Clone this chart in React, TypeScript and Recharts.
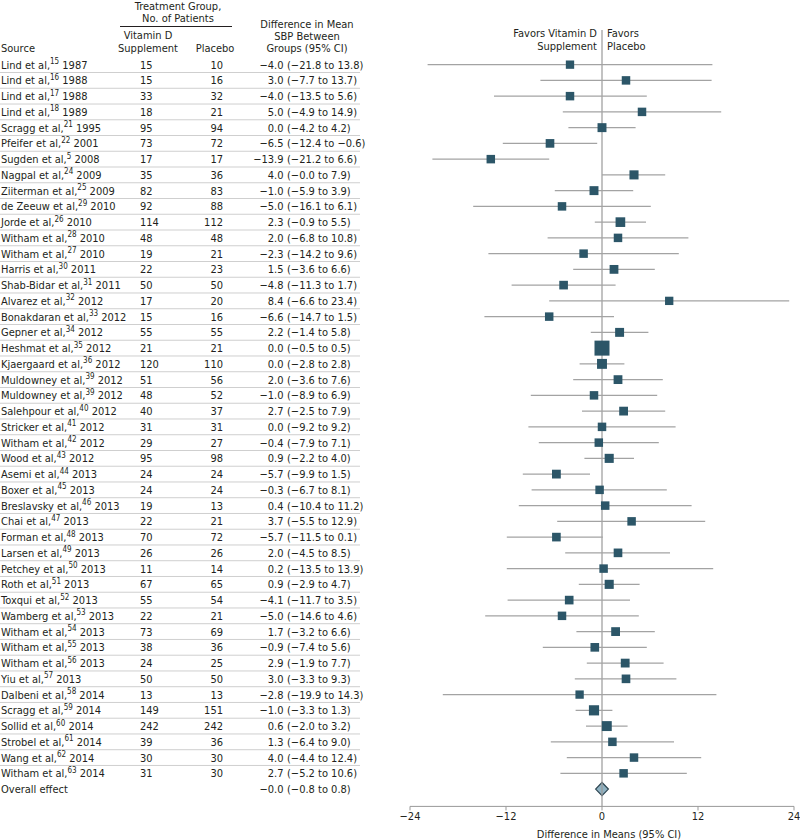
import React from 'react';
import { ScatterChart, Scatter, XAxis, YAxis, ZAxis, ErrorBar, ReferenceLine, ReferenceArea } from 'recharts';

// ---------- DATA ----------
const authors = [
  'Lind et al,', 'Lind et al,', 'Lind et al,', 'Lind et al,', 'Scragg et al,', 'Pfeifer et al,', 'Sugden et al,',
  'Nagpal et al,', 'Ziiterman et al,', 'de Zeeuw et al,', 'Jorde et al,', 'Witham et al,', 'Witham et al,',
  'Harris et al,', 'Shab-Bidar et al,', 'Alvarez et al,', 'Bonakdaran et al,', 'Gepner et al,', 'Heshmat et al,',
  'Kjaergaard et al,', 'Muldowney et al,', 'Muldowney et al,', 'Salehpour et al,', 'Stricker et al,', 'Witham et al,',
  'Wood et al,', 'Asemi et al,', 'Boxer et al,', 'Breslavsky et al,', 'Chai et al,', 'Forman et al,', 'Larsen et al,',
  'Petchey et al,', 'Roth et al,', 'Toxqui et al,', 'Wamberg et al,', 'Witham et al,', 'Witham et al,', 'Witham et al,',
  'Yiu et al,', 'Dalbeni et al,', 'Scragg et al,', 'Sollid et al,', 'Strobel et al,', 'Wang et al,', 'Witham et al,',
];
const refs = [15, 16, 17, 18, 21, 22, 5, 24, 25, 29, 26, 28, 27, 30, 31, 32, 33, 34, 35, 36, 39, 39, 40, 41, 42, 43,
  44, 45, 46, 47, 48, 49, 50, 51, 52, 53, 54, 55, 56, 57, 58, 59, 60, 61, 62, 63];
const years = [1987, 1988, 1988, 1989, 1995, 2001, 2008, 2009, 2009, 2010, 2010, 2010, 2010, 2011, 2011,
  2012, 2012, 2012, 2012, 2012, 2012, 2012, 2012, 2012, 2012, 2012,
  2013, 2013, 2013, 2013, 2013, 2013, 2013, 2013, 2013, 2013, 2013, 2013, 2013, 2013,
  2014, 2014, 2014, 2014, 2014, 2014];
const vitaminD = [15, 15, 33, 18, 95, 73, 17, 35, 82, 92, 114, 48, 19, 22, 50, 17, 15, 55, 21, 120, 51, 48, 40, 31, 29, 95,
  24, 24, 19, 22, 70, 26, 11, 67, 55, 22, 73, 38, 24, 50, 13, 149, 242, 39, 30, 31];
const placebo = [10, 16, 32, 21, 94, 72, 17, 36, 83, 88, 112, 48, 21, 23, 50, 20, 16, 55, 21, 110, 56, 52, 37, 31, 27, 98,
  24, 24, 13, 21, 72, 26, 14, 65, 54, 21, 69, 36, 25, 50, 13, 151, 242, 36, 30, 30];
const estimates = [-4.0, 3.0, -4.0, 5.0, 0.0, -6.5, -13.9, 4.0, -1.0, -5.0, 2.3, 2.0, -2.3, 1.5, -4.8, 8.4, -6.6, 2.2, 0.0,
  0.0, 2.0, -1.0, 2.7, 0.0, -0.4, 0.9, -5.7, -0.3, 0.4, 3.7, -5.7, 2.0, 0.2, 0.9, -4.1, -5.0, 1.7, -0.9, 2.9, 3.0, -2.8,
  -1.0, 0.6, 1.3, 4.0, 2.7];
const ciText = [
  '(−21.8 to 13.8)', '(−7.7 to 13.7)', '(−13.5 to 5.6)', '(−4.9 to 14.9)', '(−4.2 to 4.2)', '(−12.4 to −0.6)',
  '(−21.2 to 6.6)', '(−0.0 to 7.9)', '(−5.9 to 3.9)', '(−16.1 to 6.1)', '(−0.9 to 5.5)', '(−6.8 to 10.8)',
  '(−14.2 to 9.6)', '(−3.6 to 6.6)', '(−11.3 to 1.7)', '(−6.6 to 23.4)', '(−14.7 to 1.5)', '(−1.4 to 5.8)',
  '(−0.5 to 0.5)', '(−2.8 to 2.8)', '(−3.6 to 7.6)', '(−8.9 to 6.9)', '(−2.5 to 7.9)', '(−9.2 to 9.2)',
  '(−7.9 to 7.1)', '(−2.2 to 4.0)', '(−9.9 to 1.5)', '(−6.7 to 8.1)', '(−10.4 to 11.2)', '(−5.5 to 12.9)',
  '(−11.5 to 0.1)', '(−4.5 to 8.5)', '(−13.5 to 13.9)', '(−2.9 to 4.7)', '(−11.7 to 3.5)', '(−14.6 to 4.6)',
  '(−3.2 to 6.6)', '(−7.4 to 5.6)', '(−1.9 to 7.7)', '(−3.3 to 9.3)', '(−19.9 to 14.3)', '(−3.3 to 1.3)',
  '(−2.0 to 3.2)', '(−6.4 to 9.0)', '(−4.4 to 12.4)', '(−5.2 to 10.6)',
];
// CI limits as drawn in the plot
const ciLow = [-21.8, -7.7, -13.5, -4.9, -4.2, -12.4, -21.2, 0.0, -5.9, -16.1, -0.9, -6.8, -14.2, -3.6, -11.3, -6.6,
  -14.7, -1.4, -0.5, -2.8, -3.6, -8.9, -2.5, -9.2, -7.9, -2.2, -9.9, -8.8, -10.4, -5.6, -11.9, -4.6, -11.9, -2.9,
  -11.8, -14.6, -3.2, -7.4, -1.9, -3.4, -19.9, -3.3, -2.0, -6.4, -4.4, -5.2];
const ciHigh = [13.8, 13.7, 5.6, 14.9, 4.2, -0.6, -6.6, 7.9, 3.9, 6.1, 5.5, 10.8, 9.6, 6.6, 1.7, 23.4, 1.5, 5.8, 0.5,
  2.8, 7.6, 6.9, 7.9, 9.2, 7.1, 4.0, -1.5, 8.1, 11.2, 12.9, 0.1, 8.5, 13.9, 4.7, 3.5, 4.6, 6.6, 5.6, 7.7, 9.3, 14.3,
  1.3, 3.2, 9.0, 12.4, 10.6];
const weights = [0.5, 1, 1, 1, 2.5, 1.5, 1, 3, 2.5, 1, 5, 1, 1, 2, 1.5, 0.5, 1, 2.5, 30, 6, 2, 1, 2, 1, 1, 3,
  2, 1, 1, 1, 1.5, 1.5, 1, 3, 1.5, 1, 2, 1.5, 2, 1.5, 0.5, 7, 6, 1, 1, 1];

const overallLabel = 'Overall effect';
const overallEstimate = -0.0;
const overallLow = -0.8;
const overallHigh = 0.8;
const overallText = '(−0.8 to 0.8)';

const xTicks = [-24, -12, 0, 12, 24];

// ---------- STYLE ----------
const FONT = "'Liberation Sans Narrow', 'Arial Narrow', 'DejaVu Sans Condensed', sans-serif";
const FS = 11;
const TEXT = '#231f20';
const BOX = '#2c5668';
const CI_LINE = '#a3a3a3';
const AXIS = '#999999';

const overallRow = authors.length;
const studies = authors.map((_, i) => ({
  row: i,
  est: estimates[i],
  err: [estimates[i] - ciLow[i], ciHigh[i] - estimates[i]],
  weight: weights[i],
}));

const yTicks: number[] = [];
for (let i = 0; i <= overallRow; i++) {
  yTicks.push(i);
  if (i < overallRow - 1) yTicks.push(i + 0.5);
}

const fmt = (v: number) => {
  const neg = v < 0 || Object.is(v, -0);
  return (neg ? '−' : '') + Math.abs(v).toFixed(1);
};
const fmtTick = (v: number) => (v < 0 ? '−' + Math.abs(v) : String(v));

const RowTick = (props: any) => {
  const { y, payload } = props;
  const v = payload.value as number;
  if (!Number.isInteger(v)) {
    return <line x1={0} x2={360} y1={y} y2={y} stroke="#cfcfcf" strokeWidth={1} />;
  }
  const common = { fontFamily: FONT, fontSize: FS, fill: TEXT, dy: '0.36em' } as any;
  if (v === overallRow) {
    return (
      <g>
        <text x={1} y={y} {...common}>{overallLabel}</text>
        <text x={283.5} y={y} textAnchor="end" {...common}>{fmt(overallEstimate)}</text>
        <text x={287} y={y} {...common}>{overallText}</text>
      </g>
    );
  }
  const i = v;
  return (
    <g>
      <text x={1} y={y} {...common}>
        {authors[i]}
        <tspan fontSize={8} dy={-4.5}>{refs[i]}</tspan>
        <tspan dy={4.5}>{'\u00a0' + years[i]}</tspan>
      </text>
      <text x={140} y={y} {...common}>{vitaminD[i]}</text>
      <text x={223} y={y} textAnchor="end" {...common}>{placebo[i]}</text>
      <text x={283.5} y={y} textAnchor="end" {...common}>{fmt(estimates[i])}</text>
      <text x={287} y={y} {...common}>{ciText[i]}</text>
    </g>
  );
};

const SquareShape = (props: any) => {
  const { cx, cy, width } = props;
  const s = width;
  return <rect x={cx - s / 2} y={cy - s / 2} width={s} height={s} fill={BOX} />;
};

const DiamondShape = (props: any) => {
  const { x, y, width, height } = props;
  const cx = x + width / 2;
  const cy = y + height / 2;
  const pts = `${x},${cy} ${cx},${y} ${x + width},${cy} ${cx},${y + height}`;
  return <polygon points={pts} fill="#8fb2c2" stroke="#2c4450" strokeWidth={1.2} />;
};

const Header = () => {
  const t = { fontFamily: FONT, fontSize: FS, fill: TEXT } as any;
  return (
    <svg width={800} height={840} style={{ position: 'absolute', left: 0, top: 0, pointerEvents: 'none' }}>
      <text x={178} y={10} textAnchor="middle" {...t}>Treatment Group,</text>
      <text x={178} y={21.5} textAnchor="middle" {...t}>No. of Patients</text>
      <line x1={120} x2={232} y1={26.5} y2={26.5} stroke={TEXT} strokeWidth={1} />
      <text x={148} y={39} textAnchor="middle" {...t}>Vitamin D</text>
      <text x={148} y={52} textAnchor="middle" {...t}>Supplement</text>
      <text x={215} y={52} textAnchor="middle" {...t}>Placebo</text>
      <text x={1} y={52} {...t}>Source</text>
      <text x={307} y={28} textAnchor="middle" {...t}>Difference in Mean</text>
      <text x={307} y={40} textAnchor="middle" {...t}>SBP Between</text>
      <text x={307} y={52} textAnchor="middle" {...t}>Groups (95% CI)</text>
      <text x={597} y={37} textAnchor="end" {...t}>Favors Vitamin D</text>
      <text x={597} y={50} textAnchor="end" {...t}>Supplement</text>
      <text x={607} y={37} {...t}>Favors</text>
      <text x={607} y={50} {...t}>Placebo</text>
      <text x={609} y={838} textAnchor="middle" {...t}>Difference in Means (95% CI)</text>
    </svg>
  );
};

export default function App() {
  return (
    <div style={{ position: 'absolute', left: 0, top: 0, width: 800, height: 840, background: '#fff' }}>
      <ScatterChart width={800} height={840} margin={{ top: 30, right: 6, bottom: 0, left: 409 }}>
        <XAxis
          type="number"
          dataKey="est"
          domain={[-24, 24]}
          ticks={xTicks}
          allowDataOverflow
          tickFormatter={fmtTick}
          stroke={AXIS}
          tickSize={4}
          tickMargin={2}
          height={33.6}
          tick={{ fill: TEXT, fontSize: FS, fontFamily: FONT }}
        />
        <YAxis
          type="number"
          dataKey="row"
          domain={[-2.2, 47.1]}
          reversed
          ticks={yTicks}
          interval={0}
          tick={<RowTick />}
          tickLine={false}
          axisLine={false}
          width={1}
          allowDataOverflow
        />
        <ZAxis type="number" dataKey="weight" domain={[0, 30]} range={[52.4, 176.7]} />
        <ReferenceLine x={0} stroke={AXIS} strokeWidth={1.2} />
        <Scatter data={studies} shape={<SquareShape />} isAnimationActive={false}>
          <ErrorBar dataKey="err" direction="x" width={0} stroke={CI_LINE} strokeWidth={1.2} isAnimationActive={false} />
        </Scatter>
        <ReferenceArea
          x1={overallLow}
          x2={overallHigh}
          y1={overallRow - 0.42}
          y2={overallRow + 0.42}
          shape={<DiamondShape />}
          ifOverflow="visible"
        />
      </ScatterChart>
      <Header />
    </div>
  );
}
